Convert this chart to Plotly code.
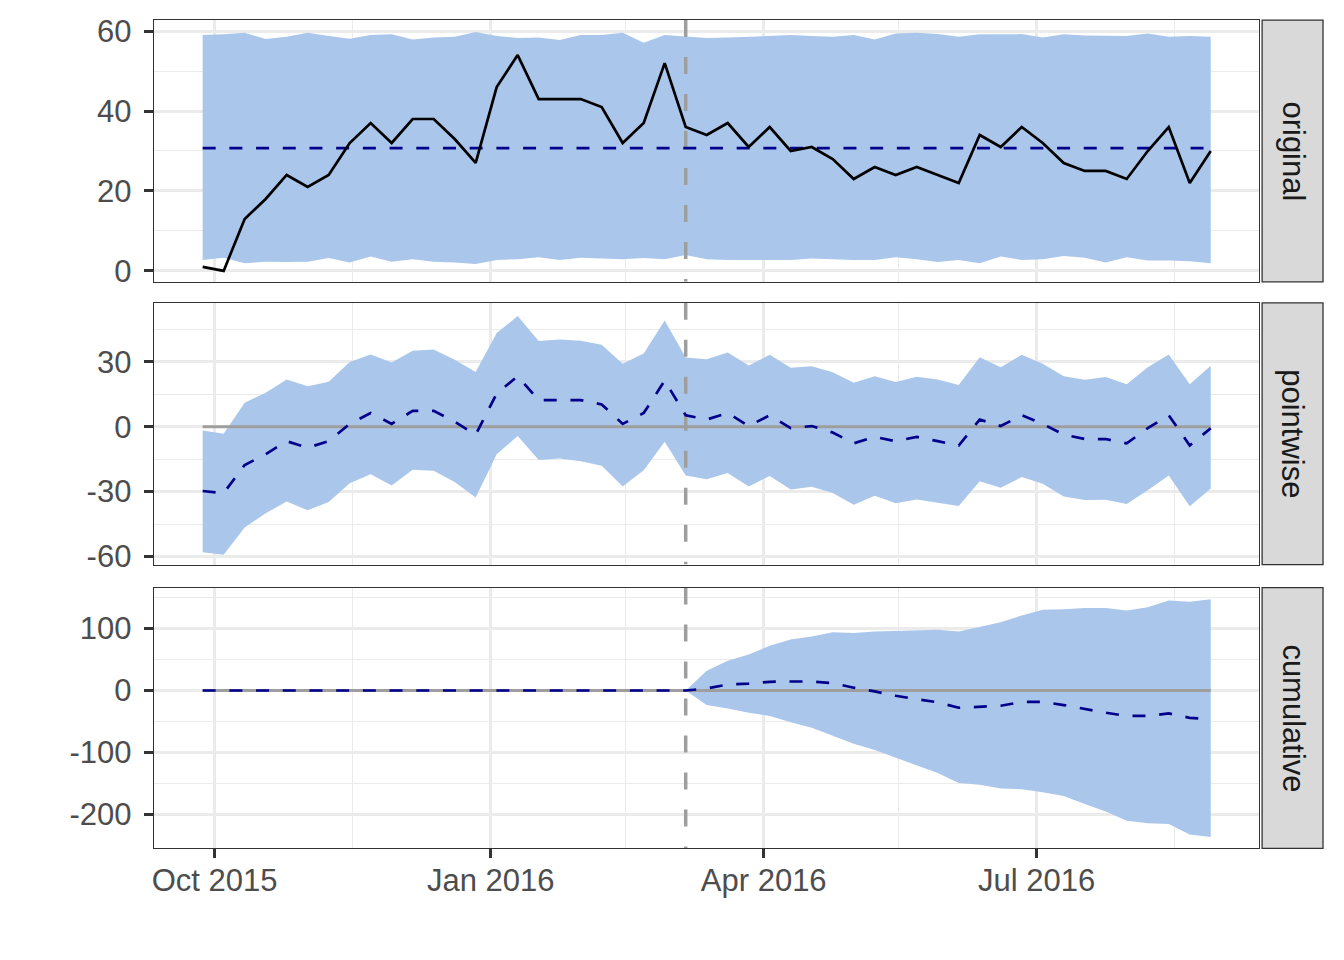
import pandas as pd
import plotly.graph_objects as go
from plotly.subplots import make_subplots

# weekly series, intervention after 2016-03-06
weeks = pd.date_range("2015-09-27", periods=49, freq="7D")
intervention = pd.Timestamp("2016-03-06")

response = [1, 0, 13, 18, 24, 21, 24, 32, 37, 32, 38, 38, 33, 27, 46, 54, 43,
            43, 43, 41, 32, 37, 52, 36, 34, 37, 31, 36, 30, 31, 28, 23, 26, 24,
            26, 24, 22, 34, 31, 36, 32, 27, 25, 25, 23, 30, 36, 22, 30]
pred_mean = 30.7
pred_lower = [2.75, 3.3, 1.9, 2.3, 2.25, 2.3, 3.25, 2.1, 3.6, 2.3,
              2.9, 2.3, 2.1, 1.7, 2.75, 2.9, 3.4, 2.75, 3.3, 3.1,
              2.9, 3.2, 2.9, 4.0, 2.9, 2.75, 2.75, 2.75, 2.75, 3.1,
              2.9, 2.75, 2.75, 3.4, 2.9, 2.2, 2.75, 1.9, 3.6, 2.75,
              2.9, 3.75, 3.3, 2.1, 3.4, 2.6, 2.6, 2.4, 1.9]
pred_upper = [59.0, 59.2, 59.6, 58.0, 58.6, 59.6, 58.75, 58.1, 59.0, 59.2,
              57.9, 58.4, 58.6, 59.75, 58.75, 58.3, 58.4, 57.75, 59.0, 59.0,
              59.6, 57.1, 59.0, 58.6, 58.3, 58.4, 58.6, 58.8, 59.0, 58.8,
              58.6, 59.0, 57.9, 59.4, 59.6, 59.25, 58.6, 59.2, 59.25, 59.25,
              58.4, 59.2, 58.9, 58.75, 58.75, 59.4, 58.6, 58.8, 58.6]

cum_mean = [0, 0, 0, 0, 0, 0, 0, 0, 0, 0, 0, 0, 0, 0, 0, 0, 0, 0, 0, 0, 0, 0, 0, 0,
            3.2, 9.6, 11, 14, 14.5, 14.5, 12, 4.5, -1.5, -8.5, -14, -19,
            -27.8, -25.7, -24.6, -18.5, -18.2, -23.5, -30, -35.8, -41, -41,
            -37, -44, -46.5]
cum_lower = [0, 0, 0, 0, 0, 0, 0, 0, 0, 0, 0, 0, 0, 0, 0, 0, 0, 0, 0, 0, 0, 0, 0, 0,
             -23.5, -29, -36, -41, -51, -60, -73, -86, -96, -108, -121, -133,
             -149, -152, -158, -159, -164, -170, -183, -195, -210, -214,
             -215, -232, -236]
cum_upper = [0, 0, 0, 0, 0, 0, 0, 0, 0, 0, 0, 0, 0, 0, 0, 0, 0, 0, 0, 0, 0, 0, 0, 0,
             32, 48, 58, 72, 82, 87, 94, 92.5, 95, 96, 97, 98,
             95, 103, 110, 121, 130, 131, 133, 133, 129, 134,
             145, 143, 147]

# pointwise effect = observed - predicted
point_mean = [r - pred_mean for r in response]
point_lower = [r - u for r, u in zip(response, pred_upper)]
point_upper = [r - l for r, l in zip(response, pred_lower)]

panel_names = ["original", "pointwise", "cumulative"]
y_ranges = [[-2.75, 62.75], [-63.7, 57.2], [-254.4, 165.9]]
y_ticks = [[0, 20, 40, 60], [-60, -30, 0, 30], [-200, -100, 0, 100]]
y_minor = [[10, 30, 50], [-45, -15, 15, 45], [-150, -50, 50, 150]]
x_ticks = ["2015-10-01", "2016-01-01", "2016-04-01", "2016-07-01"]
x_ticktext = ["Oct 2015", "Jan 2016", "Apr 2016", "Jul 2016"]
x_minor = ["2015-11-16", "2016-02-15", "2016-05-16", "2016-08-16"]
x_range = ["2015-09-10 17:00", "2016-09-13 03:00"]

BAND = "#AAC7EB"
GRID = "#EBEBEB"
DARK = "#333333"
FONT = "Liberation Sans, Arial, sans-serif"

# page body keeps an 8px margin, so the figure is sized to fit inside it
PAD = 8
W, H = 1344 - 2 * PAD, 960 - 2 * PAD
plot_left, plot_right = 152, 1259
panel_px = [(20, 282), (303, 565), (588, 849)]
strip_px = (1262, 1323)
# vertical correction measured from earlier renders
Y_SCALE, Y_SHIFT = 0.984, 6.0


def px_x(p):
    return (p - PAD) / W


def px_y(p):
    page = (p - Y_SHIFT) / Y_SCALE
    return 1 - (page - PAD) / H


fig = make_subplots(rows=3, cols=1, shared_xaxes=True, vertical_spacing=0.02)


def add_band(row, lo, hi):
    fig.add_trace(go.Scatter(x=weeks, y=lo, mode="lines", line=dict(width=0),
                             showlegend=False, hoverinfo="skip"), row=row, col=1)
    fig.add_trace(go.Scatter(x=weeks, y=hi, mode="lines", line=dict(width=0),
                             fill="tonexty", fillcolor=BAND, showlegend=False,
                             hoverinfo="skip"), row=row, col=1)


def add_vline(row):
    lo, hi = y_ranges[row - 1]
    fig.add_trace(go.Scatter(x=[intervention, intervention], y=[hi, lo], mode="lines",
                             line=dict(color="#9E9E9E", width=3.5, dash="17px,20px"),
                             showlegend=False, hoverinfo="skip"), row=row, col=1)


def add_zero(row):
    fig.add_trace(go.Scatter(x=[weeks[0], weeks[-1]], y=[0, 0], mode="lines",
                             line=dict(color="#9E9E9E", width=3),
                             showlegend=False, hoverinfo="skip"), row=row, col=1)


dashed = dict(color="#00008B", width=2.7, dash="13px,13.7px")

# original
add_band(1, pred_lower, pred_upper)
add_vline(1)
fig.add_trace(go.Scatter(x=weeks, y=[pred_mean] * len(weeks), mode="lines",
                         line=dashed, showlegend=False), row=1, col=1)
fig.add_trace(go.Scatter(x=weeks, y=response, mode="lines",
                         line=dict(color="black", width=2.7), showlegend=False),
              row=1, col=1)

# pointwise
add_band(2, point_lower, point_upper)
add_zero(2)
add_vline(2)
fig.add_trace(go.Scatter(x=weeks, y=point_mean, mode="lines", line=dashed,
                         showlegend=False), row=2, col=1)

# cumulative
add_band(3, cum_lower, cum_upper)
add_zero(3)
add_vline(3)
fig.add_trace(go.Scatter(x=weeks, y=cum_mean, mode="lines", line=dashed,
                         showlegend=False), row=3, col=1)

axis_common = dict(showline=True, mirror=True, linecolor=DARK, linewidth=1.3,
                   showgrid=True, gridcolor=GRID, gridwidth=2.8, zeroline=False,
                   tickfont=dict(family=FONT, size=31, color="#4D4D4D"))

for i in range(3):
    top, bottom = panel_px[i]
    fig.update_yaxes(
        row=i + 1, col=1, range=y_ranges[i],
        domain=[px_y(bottom), px_y(top)],
        tickmode="array", tickvals=y_ticks[i],
        ticktext=[str(v) for v in y_ticks[i]],
        ticks="outside", ticklen=9, tickwidth=2.8, tickcolor=DARK,
        ticklabelstandoff=6,
        minor=dict(tickmode="array", tickvals=y_minor[i], showgrid=True,
                   gridcolor=GRID, gridwidth=1.4, ticks=""),
        **axis_common)
    last = i == 2
    fig.update_xaxes(
        row=i + 1, col=1, range=x_range, type="date",
        domain=[px_x(plot_left), px_x(plot_right)],
        tickmode="array", tickvals=x_ticks, ticktext=x_ticktext,
        ticks="outside" if last else "", ticklen=9, tickwidth=2.8, tickcolor=DARK,
        showticklabels=last, ticklabelstandoff=-5,
        minor=dict(tickmode="array", tickvals=x_minor, showgrid=True,
                   gridcolor=GRID, gridwidth=1.4, ticks=""),
        **axis_common)

    # facet strip on the right
    fig.add_shape(type="rect", xref="paper", yref="paper",
                  x0=px_x(strip_px[0]), x1=px_x(strip_px[1]),
                  y0=px_y(bottom), y1=px_y(top),
                  fillcolor="#D9D9D9", line=dict(color=DARK, width=1.3))
    fig.add_annotation(xref="paper", yref="paper",
                       x=px_x((strip_px[0] + strip_px[1]) / 2),
                       y=px_y((top + bottom) / 2),
                       xanchor="center", yanchor="middle",
                       text=panel_names[i], textangle=90, showarrow=False,
                       font=dict(family=FONT, size=31, color="#1A1A1A"))

fig.update_layout(
    width=W, height=H, autosize=False,
    margin=dict(l=0, r=0, t=0, b=0, pad=0),
    paper_bgcolor="white", plot_bgcolor="white",
    showlegend=False,
)

fig.write_html("out.html")
